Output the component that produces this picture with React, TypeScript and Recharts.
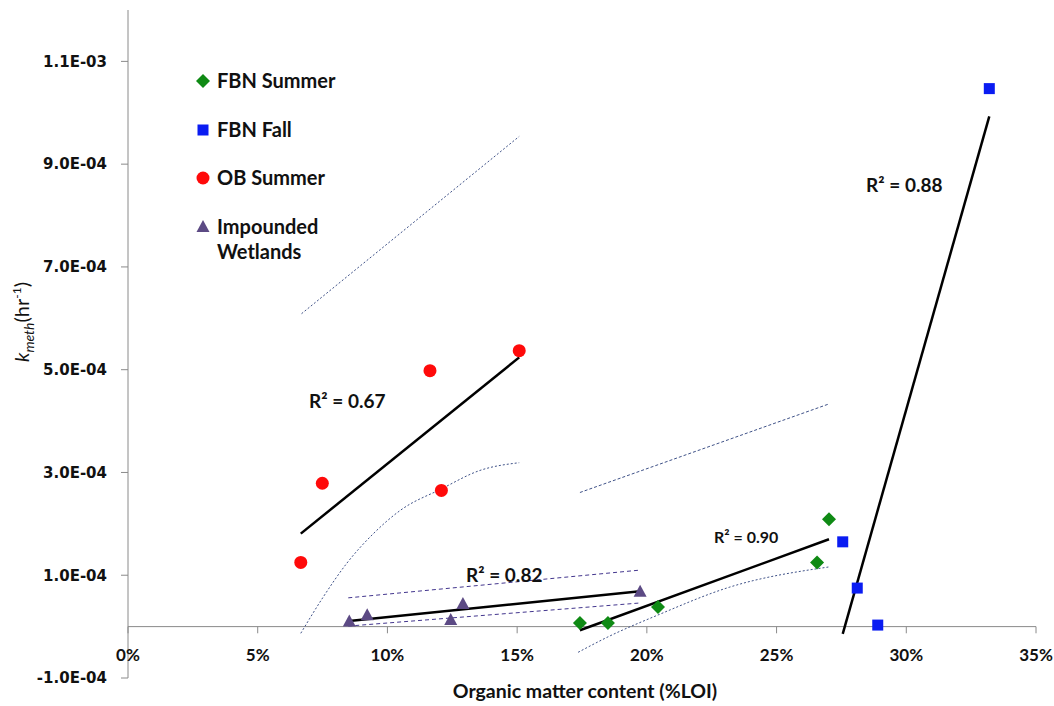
import React from "react";
import {
  ComposedChart,
  Scatter,
  Line,
  XAxis,
  YAxis,
  ReferenceLine,
  ReferenceDot,
} from "recharts";

type Pt = { x: number; y: number };

// x = organic matter content (%LOI), y = k_meth (hr^-1)
const X_TICKS = [0, 5, 10, 15, 20, 25, 30, 35];
const Y_TICKS = [-1e-4, 1e-4, 3e-4, 5e-4, 7e-4, 9e-4, 1.1e-3];

const fbnSummer: Pt[] = [
  { x: 17.42, y: 0.07e-4 },
  { x: 18.5, y: 0.07e-4 },
  { x: 20.43, y: 0.38e-4 },
  { x: 26.56, y: 1.25e-4 },
  { x: 27.02, y: 2.09e-4 },
];
const fbnFall: Pt[] = [
  { x: 27.55, y: 1.65e-4 },
  { x: 28.11, y: 0.75e-4 },
  { x: 28.9, y: 0.03e-4 },
  { x: 33.2, y: 10.47e-4 },
];
const obSummer: Pt[] = [
  { x: 6.66, y: 1.25e-4 },
  { x: 7.49, y: 2.79e-4 },
  { x: 11.64, y: 4.98e-4 },
  { x: 12.08, y: 2.65e-4 },
  { x: 15.08, y: 5.37e-4 },
];
const impounded: Pt[] = [
  { x: 8.53, y: 0.1e-4 },
  { x: 9.22, y: 0.22e-4 },
  { x: 12.44, y: 0.13e-4 },
  { x: 12.91, y: 0.44e-4 },
  { x: 19.74, y: 0.68e-4 },
];

// linear fits
const obTrend: Pt[] = [
  { x: 6.66, y: 1.81e-4 },
  { x: 15.08, y: 5.24e-4 },
];
const impTrend: Pt[] = [
  { x: 8.53, y: 0.11e-4 },
  { x: 19.74, y: 0.69e-4 },
];
const fbnSummerTrend: Pt[] = [
  { x: 17.42, y: -0.07e-4 },
  { x: 27.02, y: 1.7e-4 },
];
const fbnFallTrend: Pt[] = [
  { x: 27.55, y: -0.14e-4 },
  { x: 33.2, y: 9.93e-4 },
];

// confidence bands
const obUpper: Pt[] = [
  { x: 6.69, y: 6.09e-4 },
  { x: 15.08, y: 9.54e-4 },
];
const obLower: Pt[] = [
  { x: 6.66, y: -0.13e-4 },
  { x: 7.53, y: 0.58e-4 },
  { x: 8.43, y: 1.23e-4 },
  { x: 9.46, y: 1.81e-4 },
  { x: 10.49, y: 2.26e-4 },
  { x: 12.08, y: 2.68e-4 },
  { x: 13.57, y: 3.04e-4 },
  { x: 15.08, y: 3.19e-4 },
];
const impUpper: Pt[] = [
  { x: 8.49, y: 0.56e-4 },
  { x: 19.74, y: 1.1e-4 },
];
const impLower: Pt[] = [
  { x: 8.49, y: 0.01e-4 },
  { x: 19.74, y: 0.46e-4 },
];
const fbnUpper: Pt[] = [
  { x: 17.42, y: 2.61e-4 },
  { x: 27.0, y: 4.33e-4 },
];
const fbnLower: Pt[] = [
  { x: 17.35, y: -0.5e-4 },
  { x: 18.5, y: -0.2e-4 },
  { x: 20.4, y: 0.22e-4 },
  { x: 23.2, y: 0.77e-4 },
  { x: 27.0, y: 1.16e-4 },
];

const r2Labels = [
  { x: 6.98, y: 4.26e-4, text: "R² = 0.67", size: 19 },
  { x: 13.03, y: 0.86e-4, text: "R² = 0.82", size: 19 },
  { x: 22.59, y: 1.62e-4, text: "R² = 0.90", size: 16 },
  { x: 28.45, y: 8.46e-4, text: "R² = 0.88", size: 19 },
];

const GREEN = "#0f8a14";
const BLUE = "#0a1cf2";
const RED = "#ff0a0a";
const PURPLE = "#5c4a84";
const AXIS = "#8a8a8a";
const BAND = "#3f5288";
const IMP_BAND = "#43368e";
const FONT = "Lato, 'Open Sans', sans-serif";

function sci(v: number) {
  const [m, e] = v.toExponential(1).split("e");
  const n = parseInt(e, 10);
  return `${m}E${n < 0 ? "-" : "+"}${String(Math.abs(n)).padStart(2, "0")}`;
}

const diamond = (cx: number, cy: number) => (
  <path d={`M${cx},${cy - 7}L${cx + 7},${cy}L${cx},${cy + 7}L${cx - 7},${cy}Z`} fill={GREEN} />
);
const square = (cx: number, cy: number) => (
  <rect x={cx - 5.5} y={cy - 5.5} width={11} height={11} fill={BLUE} />
);
const circle = (cx: number, cy: number) => <circle cx={cx} cy={cy} r={6.5} fill={RED} />;
const triangle = (cx: number, cy: number) => (
  <path d={`M${cx},${cy - 7}L${cx + 6.5},${cy + 5}L${cx - 6.5},${cy + 5}Z`} fill={PURPLE} />
);

const legendItems = [
  { label: ["FBN Summer"], mark: diamond },
  { label: ["FBN Fall"], mark: square },
  { label: ["OB Summer"], mark: circle },
  { label: ["Impounded", "Wetlands"], mark: triangle },
];
const LEGEND_ROWS = [81, 130, 178, 227];

function XTick({ x, y, payload }: any) {
  return (
    <text x={x} y={y - 17} textAnchor="middle" fontFamily={FONT} fontWeight={700} fontSize={17} fill="#111">
      {payload.value}%
    </text>
  );
}

function r2Content(text: string, size: number) {
  return (p: any) => (
    <text x={p.viewBox.x} y={p.viewBox.y} fontFamily={FONT} fontWeight={700} fontSize={size} fill="#111">
      {text}
    </text>
  );
}

export default function App() {
  const band = (data: Pt[], color: string, dash: string, key: string, curved = false) => (
    <Line
      key={key}
      data={data}
      dataKey="y"
      type={curved ? "monotone" : "linear"}
      stroke={color}
      strokeWidth={1}
      strokeDasharray={dash}
      dot={false}
      activeDot={false}
      legendType="none"
      isAnimationActive={false}
    />
  );
  const trend = (data: Pt[], key: string) => (
    <Line
      key={key}
      data={data}
      dataKey="y"
      type="linear"
      stroke="#000"
      strokeWidth={2.5}
      dot={false}
      activeDot={false}
      legendType="none"
      isAnimationActive={false}
    />
  );

  return (
    <div style={{ position: "absolute", left: 0, top: 0, width: 1054, height: 706, background: "#fff" }}>
      <ComposedChart width={1054} height={706} margin={{ top: 10, right: 18, bottom: 0, left: 0 }}>
        <XAxis
          type="number"
          dataKey="x"
          domain={[0, 35]}
          ticks={X_TICKS}
          allowDataOverflow
          axisLine={false}
          tickLine={false}
          tickSize={0}
          tickMargin={0}
          height={28}
          tick={<XTick />}
          label={{
            content: (p: any) => (
              <text
                x={p.viewBox.x + p.viewBox.width / 2 + 3}
                y={p.viewBox.y + 20}
                textAnchor="middle"
                fontFamily={FONT}
                fontWeight={700}
                fontSize={19.5}
                fill="#111"
              >
                Organic matter content (%LOI)
              </text>
            ),
          }}
        />
        <YAxis
          type="number"
          dataKey="y"
          domain={[-1e-4, 1.2e-3]}
          ticks={Y_TICKS}
          allowDataOverflow
          width={128}
          stroke={AXIS}
          tickSize={7}
          tickMargin={14}
          tickFormatter={sci}
          tick={{ fontFamily: "DejaVu Sans", fontWeight: 700, fontSize: 15, fill: "#111" }}
          label={{
            content: () => (
              <text
                transform="translate(29,322) rotate(-90)"
                textAnchor="middle"
                fontFamily={FONT}
                fontSize={20}
                fill="#111"
              >
                <tspan fontStyle="italic">k</tspan>
                <tspan fontStyle="italic" fontSize={14} dy={5}>meth</tspan>
                <tspan dy={-5}>(hr</tspan>
                <tspan fontSize={12} dy={-8}>-1</tspan>
                <tspan dy={8}>)</tspan>
              </text>
            ),
          }}
        />

        <ReferenceLine y={0} stroke={AXIS} />
        {X_TICKS.map((t) => (
          <ReferenceLine
            key={`xt${t}`}
            segment={[
              { x: t, y: 0 },
              { x: t, y: -0.13e-4 },
            ]}
            stroke={AXIS}
            ifOverflow="visible"
          />
        ))}

        {band(obUpper, BAND, "2 2", "obU")}
        {band(obLower, BAND, "2 2", "obL", true)}
        {band(fbnUpper, BAND, "3 2", "fbU")}
        {band(fbnLower, BAND, "2 2", "fbL", true)}
        {band(impUpper, IMP_BAND, "4 3", "imU")}
        {band(impLower, IMP_BAND, "4 3", "imL")}

        <Scatter data={obSummer} shape={(p: any) => circle(p.cx, p.cy)} isAnimationActive={false} />
        <Scatter data={impounded} shape={(p: any) => triangle(p.cx, p.cy)} isAnimationActive={false} />
        <Scatter data={fbnSummer} shape={(p: any) => diamond(p.cx, p.cy)} isAnimationActive={false} />
        <Scatter data={fbnFall} shape={(p: any) => square(p.cx, p.cy)} isAnimationActive={false} />

        {trend(obTrend, "obT")}
        {trend(impTrend, "imT")}
        {trend(fbnSummerTrend, "fbT")}
        {trend(fbnFallTrend, "ffT")}

        {r2Labels.map((a) => (
          <ReferenceDot
            key={a.text}
            x={a.x}
            y={a.y}
            r={0}
            fill="none"
            stroke="none"
            label={{ content: r2Content(a.text, a.size) }}
          />
        ))}
      </ComposedChart>

      <svg
        width={200}
        height={220}
        style={{ position: "absolute", left: 180, top: 50, overflow: "visible" }}
      >
        {legendItems.map((it, i) => {
          const cy = LEGEND_ROWS[i] - 50;
          return (
            <g key={it.label[0]}>
              {it.mark(23, cy)}
              <text x={37} y={cy + 7} fontFamily={FONT} fontWeight={700} fontSize={20} fill="#111">
                {it.label.map((line, j) => (
                  <tspan key={line} x={37} dy={j === 0 ? 0 : 25}>
                    {line}
                  </tspan>
                ))}
              </text>
            </g>
          );
        })}
      </svg>
    </div>
  );
}
